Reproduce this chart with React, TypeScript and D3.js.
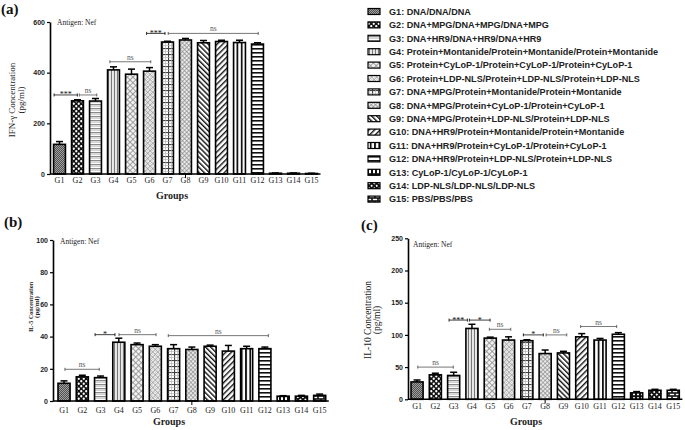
import React, { useEffect, useRef } from 'react';
import * as d3 from 'd3';

const groups = ['G1','G2','G3','G4','G5','G6','G7','G8','G9','G10','G11','G12','G13','G14','G15'];
const legendLabels = [
  'G1: DNA/DNA/DNA',
  'G2: DNA+MPG/DNA+MPG/DNA+MPG',
  'G3: DNA+HR9/DNA+HR9/DNA+HR9',
  'G4: Protein+Montanide/Protein+Montanide/Protein+Montanide',
  'G5: Protein+CyLoP-1/Protein+CyLoP-1/Protein+CyLoP-1',
  'G6: Protein+LDP-NLS/Protein+LDP-NLS/Protein+LDP-NLS',
  'G7: DNA+MPG/Protein+Montanide/Protein+Montanide',
  'G8: DNA+MPG/Protein+CyLoP-1/Protein+CyLoP-1',
  'G9: DNA+MPG/Protein+LDP-NLS/Protein+LDP-NLS',
  'G10: DNA+HR9/Protein+Montanide/Protein+Montanide',
  'G11: DNA+HR9/Protein+CyLoP-1/Protein+CyLoP-1',
  'G12: DNA+HR9/Protein+LDP-NLS/Protein+LDP-NLS',
  'G13: CyLoP-1/CyLoP-1/CyLoP-1',
  'G14: LDP-NLS/LDP-NLS/LDP-NLS',
  'G15: PBS/PBS/PBS',
];

const ifnValues = [117, 289, 288, 411, 394, 406, 521, 529, 518, 523, 519, 513, 3, 3, 2];
const ifnErrors = [11, 4, 10, 12, 20, 14, 3, 6, 9, 5, 9, 5, 1, 1, 1];
const ifnTicks = [0, 200, 400, 600];
const ifnBrackets = [
  { from: -0.3, to: 0.99, value: 312, label: '***' },
  { from: 1.1, to: 2.07, value: 312, label: 'ns' },
  { from: 2.8, to: 5.07, value: 443, label: 'ns' },
  { from: 4.84, to: 5.86, value: 555, label: '***' },
  { from: 6.04, to: 11.04, value: 555, label: 'ns' },
];

const il5Values = [11, 15, 14.5, 36.5, 35, 34, 32.5, 32, 34, 31, 32.5, 32.5, 3, 3, 3.5];
const il5Errors = [1.5, 1, 1, 2.5, 1, 1, 2.5, 1.5, 0.7, 3.5, 1.5, 1, 0.3, 0.5, 0.8];
const il5Ticks = [0, 20, 40, 60, 80, 100];
const il5Brackets = [
  { from: 0.05, to: 1.93, value: 19.7, label: 'ns' },
  { from: 1.7, to: 2.79, value: 41.2, label: '*' },
  { from: 3.01, to: 5.04, value: 41.2, label: 'ns' },
  { from: 5.71, to: 11.19, value: 40.6, label: 'ns' },
];

const il10Values = [27, 38, 37, 110, 95, 92, 91, 71, 72, 97, 92, 101, 10, 14, 14];
const il10Errors = [3, 2.5, 5, 6.5, 1.5, 5, 1.5, 5.5, 2.5, 5, 2.5, 2.5, 2, 1.5, 1.5];
const il10Ticks = [0, 50, 100, 150, 200, 250];
const il10Brackets = [
  { from: 0.04, to: 1.98, value: 50, label: 'ns' },
  { from: 1.75, to: 2.75, value: 123, label: '***' },
  { from: 2.86, to: 3.99, value: 123, label: '*' },
  { from: 3.95, to: 5.12, value: 108.7, label: 'ns' },
  { from: 5.81, to: 6.9, value: 100, label: '*' },
  { from: 7.05, to: 8.18, value: 100, label: 'ns' },
  { from: 8.94, to: 10.91, value: 113, label: 'ns' },
];

const SERIF = '"Liberation Serif", "Times New Roman", serif';
const SANS = '"Liberation Sans", Arial, sans-serif';

function addPatterns(defs: any) {
  const mk = (id: string, w: number, h: number, bg: string, transform?: string) => {
    const p = defs.append('pattern').attr('id', id).attr('patternUnits', 'userSpaceOnUse')
      .attr('width', w).attr('height', h);
    if (transform) p.attr('patternTransform', transform);
    p.append('rect').attr('width', w).attr('height', h).attr('fill', bg);
    return p;
  };
  let p: any;
  p = mk('pat1', 2, 2, '#505050');
  p.append('rect').attr('width', 1).attr('height', 1).attr('fill', '#a0a0a0');
  p.append('rect').attr('x', 1).attr('y', 1).attr('width', 1).attr('height', 1).attr('fill', '#a0a0a0');
  p = mk('pat2', 5, 5, '#111');
  p.append('circle').attr('cx', 1.25).attr('cy', 1.25).attr('r', 1.15).attr('fill', '#fff');
  p.append('circle').attr('cx', 3.75).attr('cy', 3.75).attr('r', 1.15).attr('fill', '#fff');
  p = mk('pat3', 4, 4, '#fff');
  p.append('rect').attr('width', 4).attr('height', 1.3).attr('fill', '#8a8a8a');
  p.append('rect').attr('y', 2.2).attr('width', 4).attr('height', 0.8).attr('fill', '#c8c8c8');
  p = mk('pat4', 3, 3, '#fff');
  p.append('rect').attr('width', 1).attr('height', 3).attr('fill', '#777');
  p.append('rect').attr('x', 1.7).attr('width', 0.7).attr('height', 3).attr('fill', '#bbb');
  p = mk('pat5', 4, 4, '#f2f2f2', 'rotate(45)');
  p.append('rect').attr('width', 4).attr('height', 0.8).attr('fill', '#8c8c8c');
  p.append('rect').attr('width', 0.8).attr('height', 4).attr('fill', '#8c8c8c');
  p = mk('pat6', 3.6, 3.6, '#f4f4f4', 'rotate(45)');
  p.append('rect').attr('width', 3.6).attr('height', 0.7).attr('fill', '#999');
  p.append('rect').attr('width', 0.7).attr('height', 3.6).attr('fill', '#999');
  p.append('circle').attr('cx', 2.1).attr('cy', 2.1).attr('r', 0.5).attr('fill', '#aaa');
  p = mk('pat7', 6, 6, '#fff');
  p.append('rect').attr('width', 6).attr('height', 1.1).attr('fill', '#444');
  p.append('rect').attr('width', 1.1).attr('height', 6).attr('fill', '#444');
  p.append('rect').attr('y', 3.2).attr('width', 6).attr('height', 0.6).attr('fill', '#aaa');
  p.append('rect').attr('x', 3.2).attr('width', 0.6).attr('height', 6).attr('fill', '#aaa');
  p = mk('pat8', 3, 3, '#ececec', 'rotate(45)');
  p.append('rect').attr('width', 3).attr('height', 0.6).attr('fill', '#808080');
  p.append('rect').attr('width', 0.6).attr('height', 3).attr('fill', '#808080');
  p = mk('pat9', 3.6, 3.6, '#fff', 'rotate(-45)');
  p.append('rect').attr('width', 1.4).attr('height', 3.6).attr('fill', '#111');
  p = mk('pat10', 4, 4, '#fff', 'rotate(45)');
  p.append('rect').attr('width', 1.4).attr('height', 4).attr('fill', '#111');
  p = mk('pat11', 4.3, 4, '#fff');
  p.append('rect').attr('width', 1.8).attr('height', 4).attr('fill', '#111');
  p = mk('pat12', 4, 4, '#fff');
  p.append('rect').attr('width', 4).attr('height', 1.6).attr('fill', '#111');
  p = mk('pat13', 4, 6, '#111');
  p.append('rect').attr('x', 1).attr('y', 1.2).attr('width', 2).attr('height', 4).attr('fill', '#fff');
  p = mk('pat14', 3.6, 3.6, '#111', 'rotate(45)');
  p.append('rect').attr('x', 0.9).attr('y', 0.9).attr('width', 1.8).attr('height', 1.8).attr('fill', '#fff');
  p = mk('pat15', 6, 6, '#111');
  p.append('rect').attr('x', 0.8).attr('y', 0.8).attr('width', 4.4).attr('height', 1.4).attr('fill', '#fff');
  p.append('rect').attr('x', -2.2).attr('y', 3.8).attr('width', 4.4).attr('height', 1.4).attr('fill', '#fff');
  p.append('rect').attr('x', 3.8).attr('y', 3.8).attr('width', 4.4).attr('height', 1.4).attr('fill', '#fff');
}

interface PanelCfg {
  values: number[]; errors: number[]; ticks: number[];
  brackets: { from: number; to: number; value: number; label: string }[];
  axisX: number; bandLeft: number; bandRight: number; baseY: number; topY: number; yMax: number;
  tag: string; tagX: number; tagY: number;
  antigenX: number; antigenY: number;
  yTitle: string; yTitleX: number; yTitle2X: number; yTitleY: number; yTitleSize: number; yTitleBold: boolean;
  yTitleLen?: number;
  groupsX: number; groupsY: number; labelY: number;
}

function drawPanel(svg: any, c: PanelCfg) {
  const g = svg.append('g');
  const x = d3.scaleBand<string>().domain(groups).range([c.bandLeft, c.bandRight]).paddingInner(0.34).paddingOuter(0.17);
  const y = d3.scaleLinear().domain([0, c.yMax]).range([c.baseY, c.topY]);
  const cx = (i: number) => (x(groups[0]) as number) + x.bandwidth() / 2 + i * x.step();

  g.selectAll('rect.bar').data(c.values).join('rect')
    .attr('x', (_d: number, i: number) => x(groups[i]) as number)
    .attr('y', (d: number) => y(d))
    .attr('width', x.bandwidth())
    .attr('height', (d: number) => c.baseY - y(d))
    .attr('fill', (_d: number, i: number) => `url(#pat${i + 1})`)
    .attr('stroke', '#000').attr('stroke-width', 1.6);

  c.values.forEach((v, i) => {
    const xc = cx(i);
    const yt = y(v + c.errors[i]);
    g.append('line').attr('x1', xc).attr('x2', xc).attr('y1', y(v)).attr('y2', yt).attr('stroke', '#000').attr('stroke-width', 1.5);
    g.append('line').attr('x1', xc - 3.5).attr('x2', xc + 3.5).attr('y1', yt).attr('y2', yt).attr('stroke', '#000').attr('stroke-width', 1.5);
  });

  const ya = g.append('g').attr('transform', `translate(${c.axisX},0)`)
    .call(d3.axisLeft(y).tickValues(c.ticks).tickSize(3).tickSizeOuter(0).tickPadding(2));
  ya.select('.domain').attr('stroke-width', 1.6);
  ya.selectAll('.tick line').attr('stroke-width', 1.2);
  ya.selectAll('.tick text').attr('font-family', SANS).attr('font-weight', 'bold').attr('font-size', 7).attr('fill', '#222');

  g.append('line').attr('x1', c.axisX).attr('x2', c.bandRight).attr('y1', c.baseY).attr('y2', c.baseY)
    .attr('stroke', '#000').attr('stroke-width', 1.6);
  g.append('line').attr('x1', cx(7)).attr('x2', cx(7)).attr('y1', c.baseY).attr('y2', c.baseY + 4)
    .attr('stroke', '#000').attr('stroke-width', 1);
  g.selectAll('text.xl').data(groups).join('text')
    .attr('x', (_d: string, i: number) => cx(i)).attr('y', c.labelY)
    .attr('text-anchor', 'middle').attr('font-family', SERIF).attr('font-size', 8).attr('fill', '#222')
    .text((d: string) => d);

  c.brackets.forEach((b) => {
    const x1 = cx(b.from), x2 = cx(b.to), yy = y(b.value);
    const col = b.label === 'ns' ? '#555' : '#111';
    g.append('line').attr('x1', x1).attr('x2', x2).attr('y1', yy).attr('y2', yy).attr('stroke', col).attr('stroke-width', 0.8);
    g.append('line').attr('x1', x1).attr('x2', x1).attr('y1', yy - 1.5).attr('y2', yy + 1.5).attr('stroke', col).attr('stroke-width', 0.9);
    g.append('line').attr('x1', x2).attr('x2', x2).attr('y1', yy - 1.5).attr('y2', yy + 1.5).attr('stroke', col).attr('stroke-width', 0.9);
    g.append('text').attr('x', (x1 + x2) / 2).attr('y', b.label === 'ns' ? yy - 2 : yy + 2.5)
      .attr('text-anchor', 'middle').attr('font-family', SERIF).attr('font-size', b.label === 'ns' ? 7.5 : 8)
      .attr('fill', col).text(b.label);
  });

  g.append('text').attr('x', c.tagX).attr('y', c.tagY).attr('font-family', SERIF).attr('font-weight', 'bold')
    .attr('font-size', 15).attr('fill', '#111').text(c.tag);
  g.append('text').attr('x', c.antigenX).attr('y', c.antigenY).attr('font-family', SERIF)
    .attr('font-size', 7.5).attr('fill', '#222').text('Antigen: Nef');
  const t1 = g.append('text').attr('transform', `translate(${c.yTitleX},${c.yTitleY}) rotate(-90)`)
    .attr('text-anchor', 'middle').attr('font-family', SERIF).attr('font-size', c.yTitleSize)
    .attr('font-weight', c.yTitleBold ? 'bold' : 'normal').attr('fill', '#222').text(c.yTitle);
  if (c.yTitleLen) t1.attr('textLength', c.yTitleLen).attr('lengthAdjust', 'spacingAndGlyphs');
  g.append('text').attr('transform', `translate(${c.yTitle2X},${c.yTitleY}) rotate(-90)`)
    .attr('text-anchor', 'middle').attr('font-family', SERIF).attr('font-size', c.yTitleSize)
    .attr('font-weight', c.yTitleBold ? 'bold' : 'normal').attr('fill', '#222').text('(pg/ml)');
  g.append('text').attr('x', c.groupsX).attr('y', c.groupsY).attr('text-anchor', 'middle')
    .attr('font-family', SERIF).attr('font-weight', 'bold').attr('font-size', 10).attr('fill', '#222').text('Groups');
}

export default function App() {
  const ref = useRef<SVGSVGElement>(null);
  useEffect(() => {
    const svg = d3.select(ref.current);
    svg.selectAll('*').remove();
    svg.append('rect').attr('width', 685).attr('height', 430).attr('fill', '#fff');
    const defs = svg.append('defs');
    addPatterns(defs);

    drawPanel(svg, {
      values: ifnValues, errors: ifnErrors, ticks: ifnTicks, brackets: ifnBrackets,
      axisX: 50, bandLeft: 50.5, bandRight: 320.5, baseY: 174, topY: 22, yMax: 600,
      tag: '(a)', tagX: 1, tagY: 14, antigenX: 57, antigenY: 25,
      yTitle: 'IFN-γ Concentration', yTitleX: 15, yTitle2X: 24, yTitleY: 100, yTitleSize: 9, yTitleBold: false,
      groupsX: 172, groupsY: 199, labelY: 183,
    });
    drawPanel(svg, {
      values: il5Values, errors: il5Errors, ticks: il5Ticks, brackets: il5Brackets,
      axisX: 53, bandLeft: 54.9, bandRight: 328.8, baseY: 401, topY: 240, yMax: 100,
      tag: '(b)', tagX: 4, tagY: 227, antigenX: 60, antigenY: 244,
      yTitle: 'IL-5 Concentration', yTitleX: 32.5, yTitle2X: 39, yTitleY: 307, yTitleSize: 7, yTitleBold: true,
      yTitleLen: 50,
      groupsX: 169, groupsY: 425, labelY: 413,
    });
    drawPanel(svg, {
      values: il10Values, errors: il10Errors, ticks: il10Ticks, brackets: il10Brackets,
      axisX: 408, bandLeft: 407.9, bandRight: 682.4, baseY: 399.3, topY: 238.3, yMax: 250,
      tag: '(c)', tagX: 361, tagY: 230, antigenX: 413, antigenY: 247,
      yTitle: 'IL-10 Concentration', yTitleX: 371, yTitle2X: 380, yTitleY: 320, yTitleSize: 9.5, yTitleBold: false,
      groupsX: 526, groupsY: 425, labelY: 409,
    });

    const lg = svg.append('g');
    legendLabels.forEach((lab, i) => {
      const cy = 11.5 + i * 13.4;
      lg.append('rect').attr('x', 368).attr('y', cy - 3).attr('width', 12).attr('height', 6)
        .attr('fill', `url(#pat${i + 1})`).attr('stroke', '#000').attr('stroke-width', 1.2);
      lg.append('text').attr('x', 389).attr('y', cy + 3.3).attr('font-family', SANS).attr('font-weight', 'bold')
        .attr('font-size', 9.1).attr('fill', '#222').text(lab);
    });
  }, []);
  return (
    <svg ref={ref} width={685} height={430} style={{ position: 'absolute', left: 0, top: 0, background: '#fff' }} />
  );
}
